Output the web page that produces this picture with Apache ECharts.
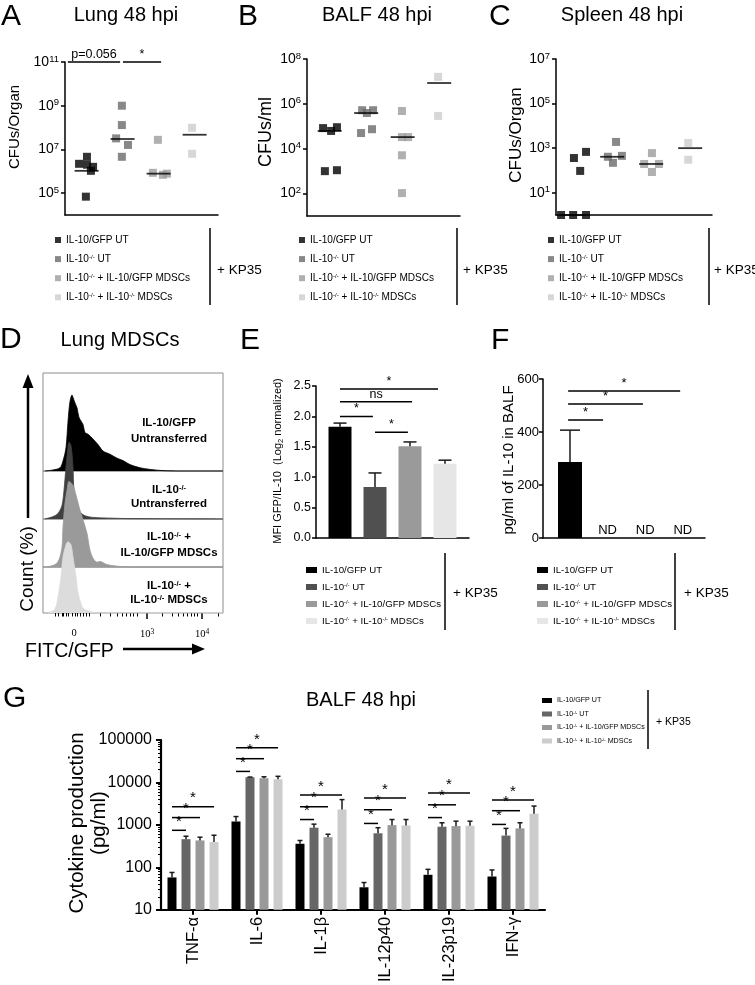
<!DOCTYPE html>
<html>
<head>
<meta charset="utf-8">
<script src="https://cdn.jsdelivr.net/npm/echarts/dist/echarts.min.js"></script>
<style>
html,body{margin:0;padding:0;background:#fff;}
#chart{width:755px;height:985px;}
</style>
</head>
<body>
<div id="chart"></div>
<script>
// ================= DATA =================
const GROUPS = ['IL-10/GFP UT', 'IL-10-/- UT', 'IL-10-/- + IL-10/GFP MDSCs', 'IL-10-/- + IL-10-/- MDSCs'];
const GROUP_POS = [1, 2, 3, 4];

// Panel A - Lung 48 hpi (CFUs/Organ); x = group position incl. jitter
const A_X = [[1.01, 0.79, 1.01, 1.18, 1.12, 0.98], [1.98, 1.98, 1.82, 2.15, 1.98], [2.98, 2.84, 3.12, 3.23], [3.93, 3.93]];
const A_Y = [[4.6e6, 2.2e6, 2.0e6, 1.6e6, 1.05e6, 6.9e4], [1.0e9, 1.3e8, 3.2e7, 1.6e7, 4.6e6], [2.75e7, 8.5e5, 6.9e5, 7.8e5], [9.8e7, 6.3e6]];
const A_MED = [1.05e6, 3.0e7, 7.8e5, 4.7e7];
const A_TICKS = [1e5, 1e7, 1e9, 1e11];
const A_SIG = [[0.48, 1.93, 1e11], [2.01, 3.07, 1e11]];
const A_SIG_TXT = ['p=0.056', '*'];

// Panel B - BALF 48 hpi (CFUs/ml)
const B_X = [[0.82, 1.04, 1.20, 0.87, 1.20], [1.89, 2.02, 2.19, 1.86, 2.16], [2.98, 2.98, 3.15, 2.98, 2.98], [3.97, 3.97]];
const B_Y = [[8.3e4, 6.2e4, 9.1e4, 1.0e3, 1.1e3], [5.2e5, 3.9e5, 5.2e5, 5.0e4, 7.4e4], [4.8e5, 3.3e4, 3.3e4, 5.1e3, 105], [1.6e7, 2.9e5]];
const B_MED = [6.2e4, 3.9e5, 3.3e4, 8.5e6];
const B_TICKS = [1e2, 1e4, 1e6, 1e8];

// Panel C - Spleen 48 hpi (CFUs/Organ)
const C_X = [[1.02, 1.33, 1.18, 0.69, 1.00, 1.33], [2.10, 1.89, 2.25, 2.02], [3.02, 2.82, 3.20, 3.02], [3.95, 3.95]];
const C_Y = [[360, 680, 95, 1, 1, 1], [1900, 410, 450, 220], [600, 195, 195, 85], [1700, 300]];
const C_MED = [1, 410, 195, 1000];
const C_TICKS = [1e1, 1e3, 1e5, 1e7];

// Panel D - Lung MDSCs histograms (FITC/GFP display channel, % of max count)
const D_BLACK_X = [2, 10, 17, 20, 23, 25, 27, 29, 30, 32, 34, 36, 40, 42, 45, 50, 55, 60, 67, 74, 80, 87, 97, 107, 120, 137, 180];
const D_BLACK_Y = [0, 1.3, 4, 12.5, 29, 62, 87, 95, 92, 85, 79, 67, 58, 48, 46, 40, 33, 25, 21, 16, 13, 8, 4, 2, 0.5, 0, 0];
const D_DARK_X = [2, 10, 15, 19, 21, 23, 25, 26, 28, 30, 31, 34, 37, 42, 50, 70, 87, 180];
const D_DARK_Y = [0, 3, 7, 17, 36, 65, 90, 96, 92, 65, 36, 20, 9, 4, 2, 1, 0.5, 0];
const D_MID_X = [4, 12, 16, 19, 20, 22, 24, 26, 30, 33, 37, 40, 44, 47, 50, 54, 57, 64, 74, 87, 180];
const D_MID_Y = [0, 3, 9, 25, 50, 80, 96, 107, 102, 90, 71, 59, 42, 21, 11, 6, 7, 3, 1, 0, 0];
const D_LIGHT_X = [5, 12, 15, 18, 20, 23, 25, 28, 30, 33, 35, 38, 40, 45, 54, 180];
const D_LIGHT_Y = [0, 5, 20, 45, 70, 85, 89, 85, 70, 45, 25, 12, 6, 3, 0, 0];
const D_LABEL_POS = [31, 104, 159];
const D_LABEL_TXT = ['0', '10{s|3}', '10{s|4}'];
const D_MAJOR = [104, 159];
const D_MINOR = [12, 15, 19, 20, 23, 25, 29, 32, 34, 37, 40, 43, 46, 57, 67, 74, 79, 83, 87, 90, 94, 119, 129, 135, 140, 144, 148, 151, 154, 175];

// Panel E - MFI GFP/IL-10 (Log2 normalized)
const E_MEAN = [1.83, 0.84, 1.51, 1.22];
const E_UPPER = [1.89, 1.07, 1.58, 1.28];
const E_SIG = [[1.0, 3.8, 2.45], [1.0, 3.06, 2.24], [1.0, 1.94, 2.0], [2.0, 2.94, 1.74]];
const E_SIG_TXT = ['*', 'ns', '*', '*'];

// Panel F - pg/ml of IL-10 in BALF
const F_MEAN = [287, 0, 0, 0];
const F_UPPER = [407];
const F_SIG = [[0.95, 3.93, 555], [0.95, 2.94, 506], [0.95, 1.88, 445]];
const F_SIG_TXT = ['*', '*', '*'];

// Panel G - cytokines in BALF 48 hpi
const G_CATS = ['TNF-α', 'IL-6', 'IL-1β', 'IL-12p40', 'IL-23p19', 'IFN-γ'];
const G_MEAN = [
  [58, 1205, 360, 34, 67, 61],
  [462, 13200, 861, 636, 908, 562],
  [431, 12530, 514, 989, 937, 829],
  [394, 11880, 2317, 972, 955, 1845]
];
const G_UPPER = [
  [76, 1574, 430, 44, 90, 87],
  [542, 13400, 1043, 861, 1124, 829],
  [514, 13600, 603, 1340, 1225, 1124],
  [572, 13960, 3950, 1340, 1225, 2780]
];
// [category, compared bar, bracket height]
const G_SIG = [
  [0, 1, 747], [0, 2, 1490], [0, 3, 2680],
  [1, 1, 18200], [1, 2, 36300], [1, 3, 65300],
  [2, 1, 1340], [2, 2, 2680], [2, 3, 5070],
  [3, 1, 1084], [3, 2, 2281], [3, 3, 4326],
  [4, 1, 1490], [4, 2, 2977], [4, 3, 5640],
  [5, 1, 1028], [5, 2, 2163], [5, 3, 3890]
];
const G_MINOR = [];
[10, 100, 1000, 10000].forEach(d => { for (let k = 2; k <= 9; k++) G_MINOR.push(k * d); });

// ================= STYLE =================
function hasFont(f) {
  const c = document.createElement('canvas').getContext('2d');
  c.font = '20px monospace';
  const a = c.measureText('IL-10/GFP MDSCs').width;
  c.font = "20px '" + f + "', monospace";
  return c.measureText('IL-10/GFP MDSCs').width !== a;
}
const FONT = "'Liberation Sans', Arial, Helvetica, sans-serif";
const HAS_NARROW = hasFont('Liberation Sans Narrow');
const NARROW = HAS_NARROW ? "'Liberation Sans Narrow', 'Liberation Sans', sans-serif" : FONT;
const NS = HAS_NARROW ? 1 : 0.84;
const SERIF = "'Liberation Serif', 'DejaVu Serif', serif";
const COL_SC = ['#000000', '#6a6a6a', '#9c9c9c', '#cdcdcd'];
const COL_D = ['#000000', '#404040', '#9a9a9a', '#dcdcdc'];
const COL_E = ['#000000', '#505050', '#9a9a9a', '#e6e6e6'];
const COL_G = ['#000000', '#666666', '#999999', '#cccccc'];
const BAR_OFF = [-21, -7, 7, 21];
const PI2 = Math.PI / 2;

const blackLine = w => ({show: true, onZero: false, lineStyle: {color: '#000', width: w}});
const logFmt = v => '10{s|' + Math.round(Math.log10(v)) + '}';
const legendFmt = name => name.split('|')[1].replace(/-\/-/g, '{s|-/-}');

// ================= AXES =================
const grid = [
  {left: 65, top: 62, width: 153, height: 153},
  {left: 307, top: 59, width: 153, height: 157},
  {left: 556, top: 59, width: 156, height: 156},
  {left: 43, top: 373, width: 180, height: 98, show: true, borderColor: '#8c8c8c', borderWidth: 1},
  {left: 43, top: 471, width: 180, height: 48, show: true, borderColor: '#8c8c8c', borderWidth: 1},
  {left: 43, top: 519, width: 180, height: 48, show: true, borderColor: '#8c8c8c', borderWidth: 1},
  {left: 43, top: 567, width: 180, height: 46, show: true, borderColor: '#8c8c8c', borderWidth: 1},
  {left: 316, top: 386, width: 153, height: 152},
  {left: 543, top: 379, width: 162, height: 159},
  {left: 161, top: 740, width: 384, height: 173}
];
const xAx = [], yAx = [];
[[0.40, 4.65, 1e4, 1e11, A_TICKS], [0.38, 4.57, 1e1, 1e8, B_TICKS], [0.56, 4.56, 1e0, 1e7, C_TICKS]].forEach((c, i) => {
  xAx.push({gridIndex: i, type: 'value', min: c[0], max: c[1], axisLine: blackLine(1.5), axisTick: {show: false}, axisLabel: {show: false}, splitLine: {show: false}});
  yAx.push({gridIndex: i, type: 'log', logBase: 10, min: c[2], max: c[3], axisLine: blackLine(1.5),
    axisTick: {show: true, length: 4, customValues: c[4], lineStyle: {color: '#000', width: 1.5}},
    axisLabel: {customValues: c[4], formatter: logFmt, color: '#000', fontSize: 14, fontFamily: FONT, margin: 6,
      rich: {s: {fontSize: 9.5, verticalAlign: 'top', padding: [0, 0, 6, 0], fontFamily: FONT, color: '#000'}}},
    splitLine: {show: false}});
});
const D_YMAX = [122.5, 60, 60, 57.5];
for (let k = 0; k < 4; k++) {
  const last = k === 3;
  xAx.push({gridIndex: 3 + k, type: 'value', min: 0, max: 180, show: last, axisLine: {show: false},
    axisTick: last ? {show: true, customValues: D_MAJOR, length: 6, lineStyle: {color: '#000', width: 1.5}} : {show: false},
    axisLabel: last ? {customValues: D_LABEL_POS, formatter: v => D_LABEL_TXT[D_LABEL_POS.indexOf(v)] || '', fontFamily: SERIF, fontSize: 10.5, color: '#000', margin: 15,
      rich: {s: {fontSize: 7.5, verticalAlign: 'top', padding: [0, 0, 5, 0], fontFamily: SERIF, color: '#000'}}} : {show: false},
    splitLine: {show: false}});
  yAx.push({gridIndex: 3 + k, type: 'value', min: 0, max: D_YMAX[k], show: false, splitLine: {show: false}});
}
// E
xAx.push({gridIndex: 7, type: 'value', min: 0.314, max: 4.686, axisLine: blackLine(1.5), axisTick: {show: false}, axisLabel: {show: false}, splitLine: {show: false}});
yAx.push({gridIndex: 7, type: 'value', min: 0, max: 2.5, interval: 0.5, axisLine: blackLine(1.5),
  axisTick: {show: true, length: 4, lineStyle: {color: '#000', width: 1.5}},
  axisLabel: {formatter: v => v.toFixed(1), fontSize: 12.5, fontFamily: FONT, color: '#000', margin: 5}, splitLine: {show: false}});
// F
xAx.push({gridIndex: 8, type: 'value', min: 0.282, max: 4.59, axisLine: blackLine(1.5), axisTick: {show: false}, axisLabel: {show: false}, splitLine: {show: false}});
yAx.push({gridIndex: 8, type: 'value', min: 0, max: 600, interval: 200, axisLine: blackLine(1.5),
  axisTick: {show: true, length: 4, lineStyle: {color: '#000', width: 1.5}},
  axisLabel: {fontSize: 13, fontFamily: FONT, color: '#000', margin: 4}, splitLine: {show: false}});
// G
xAx.push({gridIndex: 9, type: 'category', data: G_CATS, axisLine: blackLine(2.2),
  axisTick: {show: true, alignWithLabel: true, length: 5, lineStyle: {color: '#000', width: 2}},
  axisLabel: {rotate: 90, interval: 0, fontSize: 16.5, fontFamily: FONT, color: '#000', margin: 7}, splitLine: {show: false}});
yAx.push({gridIndex: 9, type: 'log', logBase: 10, min: 10, max: 1e5, axisLine: blackLine(2.2),
  axisTick: {show: true, length: 5, lineStyle: {color: '#000', width: 2}},
  axisLabel: {formatter: v => String(Math.round(v)), fontSize: 16, fontFamily: FONT, color: '#000', margin: 9}, splitLine: {show: false}});
// D minor ticks (xAxis 10), G minor ticks (yAxis 10)
xAx.push({gridIndex: 6, type: 'value', min: 0, max: 180, position: 'bottom', axisLine: {show: false},
  axisTick: {show: true, customValues: D_MINOR, length: 3.5, lineStyle: {color: '#000', width: 1}}, axisLabel: {show: false}, splitLine: {show: false}});
yAx.push({gridIndex: 9, type: 'log', logBase: 10, min: 10, max: 1e5, position: 'left', axisLine: {show: false},
  axisTick: {show: true, customValues: G_MINOR, length: 3, lineStyle: {color: '#000', width: 1}}, axisLabel: {show: false}, splitLine: {show: false}});

// ================= RENDERERS =================
function bracketRender(labels, fontSize, lift) {
  return function (params, api) {
    const a = api.coord([api.value(0), api.value(2)]);
    const b = api.coord([api.value(1), api.value(2)]);
    return {type: 'group', children: [
      {type: 'line', shape: {x1: a[0], y1: a[1], x2: b[0], y2: b[1]}, style: {stroke: '#000', lineWidth: 1.5}},
      {type: 'text', x: (a[0] + b[0]) / 2, y: a[1] - lift, style: {text: labels[params.dataIndex], fontSize: fontSize, fontFamily: FONT, fill: '#000', align: 'center', verticalAlign: 'bottom'}}
    ]};
  };
}
function errRender(capW, offset) {
  return function (params, api) {
    const p = api.coord([api.value(0), api.value(1)]);
    const q = api.coord([api.value(0), api.value(2)]);
    const cx = p[0] + (offset || 0);
    return {type: 'group', children: [
      {type: 'line', shape: {x1: cx, y1: p[1], x2: cx, y2: q[1]}, style: {stroke: '#1a1a1a', lineWidth: 1.5}},
      {type: 'line', shape: {x1: cx - capW / 2, y1: q[1], x2: cx + capW / 2, y2: q[1]}, style: {stroke: '#1a1a1a', lineWidth: 1.5}}
    ]};
  };
}
function gBracketRender(params, api) {
  const p = api.coord([api.value(0), api.value(2)]);
  const x1 = p[0] + BAR_OFF[0], x2 = p[0] + BAR_OFF[api.value(1)];
  return {type: 'group', children: [
    {type: 'line', shape: {x1: x1, y1: p[1], x2: x2, y2: p[1]}, style: {stroke: '#000', lineWidth: 1.5}},
    {type: 'text', x: (x1 + x2) / 2, y: p[1] - 1, style: {text: '*', fontSize: 15, fontFamily: FONT, fill: '#000', align: 'center', verticalAlign: 'bottom'}}
  ]};
}

// ================= SERIES =================
const series = [];
[['A', 0, A_X, A_Y, A_MED], ['B', 1, B_X, B_Y, B_MED], ['C', 2, C_X, C_Y, C_MED]].forEach(p => {
  GROUPS.forEach((g, gi) => {
    series.push({type: 'scatter', name: p[0] + '|' + g, xAxisIndex: p[1], yAxisIndex: p[1], symbol: 'rect', symbolSize: 8,
      itemStyle: {color: COL_SC[gi]}, data: p[2][gi].map((x, i) => [x, p[3][gi][i]]), z: 2, silent: true});
  });
  series.push({type: 'scatter', name: p[0] + '-median', xAxisIndex: p[1], yAxisIndex: p[1], symbol: 'rect', symbolSize: [24, 1.8],
    itemStyle: {color: '#000'}, data: p[4].map((m, gi) => [GROUP_POS[gi], m]), z: 3, silent: true});
});
series.push({type: 'custom', name: 'A-sig', xAxisIndex: 0, yAxisIndex: 0, renderItem: bracketRender(A_SIG_TXT, 12.5, 1), data: A_SIG, silent: true, z: 4});

// D histograms
[[D_BLACK_X, D_BLACK_Y], [D_DARK_X, D_DARK_Y], [D_MID_X, D_MID_Y], [D_LIGHT_X, D_LIGHT_Y]].forEach((h, k) => {
  series.push({type: 'line', name: 'D-' + k, xAxisIndex: 3 + k, yAxisIndex: 3 + k, smooth: 0.3, showSymbol: false, symbol: 'none', clip: false,
    lineStyle: {color: COL_D[k], width: 0.8}, areaStyle: {color: COL_D[k], opacity: 1}, data: h[0].map((x, i) => [x, h[1][i]]), z: 2 + k, silent: true});
});

// E bars
GROUPS.forEach((g, gi) => {
  series.push({type: 'bar', name: 'E|' + g, xAxisIndex: 7, yAxisIndex: 7, barWidth: 23, barGap: '-100%',
    itemStyle: {color: COL_E[gi]}, data: [[GROUP_POS[gi], E_MEAN[gi]]], silent: true});
});
series.push({type: 'custom', name: 'E-err', xAxisIndex: 7, yAxisIndex: 7, renderItem: errRender(13), data: E_MEAN.map((m, i) => [GROUP_POS[i], m, E_UPPER[i]]), z: 4, silent: true});
series.push({type: 'custom', name: 'E-sig', xAxisIndex: 7, yAxisIndex: 7, renderItem: bracketRender(E_SIG_TXT, 12.5, 1), data: E_SIG, z: 4, silent: true});

// F bars
GROUPS.forEach((g, gi) => {
  series.push({type: 'bar', name: 'F|' + g, xAxisIndex: 8, yAxisIndex: 8, barWidth: 24, barGap: '-100%',
    itemStyle: {color: COL_E[gi]}, data: [[GROUP_POS[gi], F_MEAN[gi]]], silent: true,
    label: {show: true, position: 'top', distance: 1, formatter: p => (p.value[1] === 0 ? 'ND' : ''), fontSize: 13, fontFamily: FONT, color: '#000'}});
});
series.push({type: 'custom', name: 'F-err', xAxisIndex: 8, yAxisIndex: 8, renderItem: errRender(20), data: F_UPPER.map((u, i) => [GROUP_POS[i], F_MEAN[i], u]), z: 4, silent: true});
series.push({type: 'custom', name: 'F-sig', xAxisIndex: 8, yAxisIndex: 8, renderItem: bracketRender(F_SIG_TXT, 13, 1), data: F_SIG, z: 4, silent: true});

// G bars
GROUPS.forEach((g, k) => {
  series.push({type: 'bar', name: 'G|' + g, xAxisIndex: 9, yAxisIndex: 9, barWidth: 9, barGap: '55.6%', clip: true,
    itemStyle: {color: COL_G[k]}, data: G_MEAN[k], silent: true});
});
GROUPS.forEach((g, k) => {
  series.push({type: 'custom', name: 'G-err-' + k, xAxisIndex: 9, yAxisIndex: 9, renderItem: errRender(5, BAR_OFF[k]),
    data: G_CATS.map((c, i) => [i, G_MEAN[k][i], G_UPPER[k][i]]), z: 4, silent: true});
});
series.push({type: 'custom', name: 'G-sig', xAxisIndex: 9, yAxisIndex: 9, renderItem: gBracketRender, data: G_SIG, z: 4, silent: true});

// ================= LEGENDS =================
function mkLegend(prefix, left, top, iw, ih, fs, gap) {
  return {data: GROUPS.map(g => prefix + '|' + g), left: left, top: top, orient: 'vertical', icon: 'rect', itemWidth: iw, itemHeight: ih,
    itemGap: gap, selectedMode: false, padding: 0, formatter: legendFmt,
    textStyle: {fontFamily: NARROW, fontSize: fs * NS, color: '#000',
      rich: {s: {fontSize: fs * NS * 0.6, verticalAlign: 'top', padding: [0, 0, fs * 0.35, 0], fontFamily: NARROW, color: '#000'}}}};
}
const legend = [
  mkLegend('A', 55, 235, 6, 6, 12, 9),
  mkLegend('B', 299, 235, 6, 6, 12, 9),
  mkLegend('C', 548, 235, 6, 6, 12, 9),
  mkLegend('E', 306, 565, 11, 6, 11.5, 7),
  mkLegend('F', 537, 565, 11, 6, 11.5, 7),
  mkLegend('G', 542, 697, 10, 5, 8.5, 6.5)
];

// ================= GRAPHIC (text / decorations) =================
function T(text, x, y, size, o) {
  o = o || {};
  return {type: 'text', x: x, y: y, rotation: o.rot || 0, z: 50, silent: true,
    style: {text: text, fill: '#000', fontSize: size, fontFamily: o.family || FONT, fontWeight: o.bold ? 'bold' : 'normal',
      align: o.align || 'center', verticalAlign: 'middle', rich: o.rich, lineHeight: o.lh}};
}
function L(x1, y1, x2, y2, w) {
  return {type: 'line', z: 50, silent: true, shape: {x1: x1, y1: y1, x2: x2, y2: y2}, style: {stroke: '#000', lineWidth: w || 1.5}};
}
function P(pts) {
  return {type: 'polygon', z: 50, silent: true, shape: {points: pts}, style: {fill: '#000'}};
}
const boldSup = {s: {fontSize: 7.5, fontWeight: 'bold', verticalAlign: 'top', padding: [0, 0, 4, 0], fontFamily: FONT, fill: '#000'}};
const graphic = [
  T('A', 1, 17, 30, {align: 'left'}), T('B', 238, 17, 30, {align: 'left'}), T('C', 489, 17, 30, {align: 'left'}),
  T('D', 0, 340, 30, {align: 'left'}), T('E', 240, 341, 30, {align: 'left'}), T('F', 491, 341, 30, {align: 'left'}),
  T('G', 3, 699, 30, {align: 'left'}),
  T('Lung 48 hpi', 126, 15, 20), T('BALF 48 hpi', 377, 15, 20), T('Spleen 48 hpi', 622, 15, 20),
  T('Lung MDSCs', 120, 340, 20), T('BALF 48 hpi', 361, 700, 20),
  T('CFUs/Organ', 15, 127, 15, {rot: PI2}), T('CFUs/ml', 266, 132, 18, {rot: PI2}), T('CFUs/Organ', 516, 135, 17, {rot: PI2}),
  T('MFI GFP/IL-10  (Log{sub|2} normalized)', 278, 461, 11, {rot: PI2, rich: {sub: {fontSize: 7.5, verticalAlign: 'bottom', padding: [6, 0, 0, 0], fontFamily: FONT, fill: '#000'}}}),
  T('pg/ml of IL-10 in BALF', 509, 460, 15, {rot: PI2}),
  T('Cytokine production\n(pg/ml)', 88, 823, 20.5, {rot: PI2, lh: 22}),
  T('Count (%)', 28, 569, 19, {rot: PI2}),
  T('FITC/GFP', 25, 652, 19.5, {align: 'left'}),
  T('IL-10/GFP', 169, 423, 11.5, {bold: true}), T('Untransferred', 169, 439, 11.5, {bold: true}),
  T('IL-10{s|-/-}', 169, 490, 11.5, {bold: true, rich: boldSup}), T('Untransferred', 169, 504, 11.5, {bold: true}),
  T('IL-10{s|-/-} +', 169, 537, 11.5, {bold: true, rich: boldSup}), T('IL-10/GFP MDSCs', 169, 553, 11.5, {bold: true}),
  T('IL-10{s|-/-} +', 169, 586, 11.5, {bold: true, rich: boldSup}), T('IL-10{s|-/-} MDSCs', 169, 600, 11.5, {bold: true, rich: boldSup}),
  L(210, 228, 210, 305), T('+ KP35', 217, 270, 13.5, {align: 'left'}),
  L(457, 228, 457, 305), T('+ KP35', 463, 270, 13.5, {align: 'left'}),
  L(709, 228, 709, 305), T('+ KP35', 714, 270, 13.5, {align: 'left'}),
  L(445, 553, 445, 630), T('+ KP35', 453, 593, 13.5, {align: 'left'}),
  L(675, 553, 675, 630), T('+ KP35', 684, 593, 13.5, {align: 'left'}),
  L(648, 690, 648, 749), T('+ KP35', 656, 722, 10.5, {align: 'left'}),
  L(28, 518, 28, 386, 2.5), P([[22.5, 388], [33.5, 388], [28, 374]]),
  L(123, 649, 194, 649, 2.5), P([[192, 643.5], [192, 654.5], [205, 649]])
];

const chart = echarts.init(document.getElementById('chart'), null, {renderer: 'canvas', width: 755, height: 985});
chart.setOption({
  animation: false,
  backgroundColor: '#fff',
  textStyle: {fontFamily: FONT},
  grid: grid, xAxis: xAx, yAxis: yAx, legend: legend, series: series, graphic: graphic
});
</script>
</body>
</html>
